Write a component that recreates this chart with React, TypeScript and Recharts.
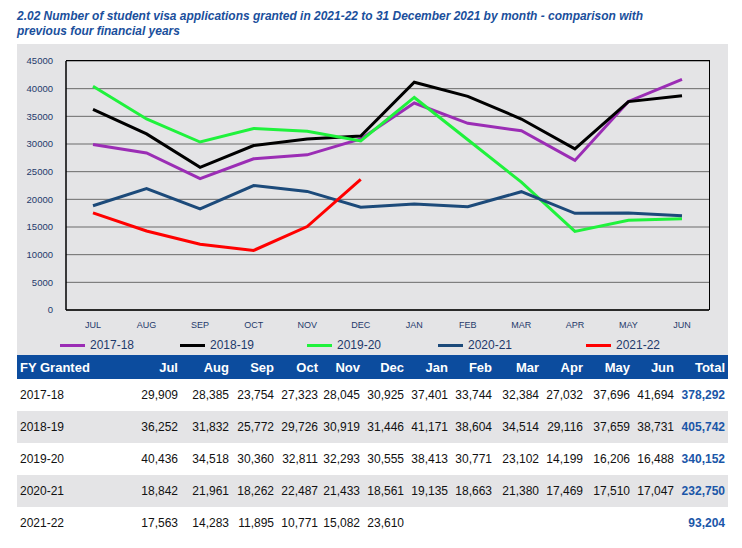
import { LineChart, Line, XAxis, YAxis, CartesianGrid } from 'recharts';

// monthly grants by financial year
const months = ['Jul', 'Aug', 'Sep', 'Oct', 'Nov', 'Dec', 'Jan', 'Feb', 'Mar', 'Apr', 'May', 'Jun'];
const fy1718 = [29909, 28385, 23754, 27323, 28045, 30925, 37401, 33744, 32384, 27032, 37696, 41694];
const fy1819 = [36252, 31832, 25772, 29726, 30919, 31446, 41171, 38604, 34514, 29116, 37659, 38731];
const fy1920 = [40436, 34518, 30360, 32811, 32293, 30555, 38413, 30771, 23102, 14199, 16206, 16488];
const fy2021 = [18842, 21961, 18262, 22487, 21433, 18561, 19135, 18663, 21380, 17469, 17510, 17047];
const fy2122 = [17563, 14283, 11895, 10771, 15082, 23610];
const totals = [378292, 405742, 340152, 232750, 93204];
const yTicks = [0, 5000, 10000, 15000, 20000, 25000, 30000, 35000, 40000, 45000];

const series = [
    { key: 'fy1718', name: '2017-18', color: '#9b2db5', values: fy1718 },
    { key: 'fy1819', name: '2018-19', color: '#000000', values: fy1819 },
    { key: 'fy1920', name: '2019-20', color: '#1ff23c', values: fy1920 },
    { key: 'fy2021', name: '2020-21', color: '#1c4a7a', values: fy2021 },
    { key: 'fy2122', name: '2021-22', color: '#ff0000', values: fy2122 },
];

const data = months.map((m, i) => {
    const row: any = { month: m };
    series.forEach((s) => {
        row[s.key] = s.values[i] ?? null;
    });
    return row;
});

const legendLeft = [43, 163, 290, 421, 569];
const colWidths = [114, 50, 51, 45, 44, 42, 44, 44, 44, 47, 44, 47, 44, 51];

const font = 'Arial, "Liberation Sans", sans-serif';
const axisBlue = '#1f3a6b';

// chart margins, the frame overlay uses the same numbers
const M = { top: 17, right: 19, left: 0, bottom: 25 };
const Y_W = 49;
const X_H = 20;
const CW = 711;
const CH = 311;

export default function App() {
    return (
        <div style={{ position: 'relative', width: 742, height: 548, background: '#fff', fontFamily: font }}>
            <style>{`body{margin:0}`}</style>
            <div
                style={{
                    position: 'absolute',
                    left: 17,
                    top: 8,
                    width: 780,
                    fontSize: 13,
                    lineHeight: '15px',
                    fontWeight: 'bold',
                    fontStyle: 'italic',
                    color: '#1a4f9c',
                    transform: 'scaleX(0.92)',
                    transformOrigin: 'left top',
                }}
            >
                2.02 Number of student visa applications granted in 2021-22 to 31 December 2021 by month - comparison with
                <br />
                previous four financial years
            </div>

            <div style={{ position: 'absolute', left: 17, top: 44, width: CW, height: CH, background: '#e4e4e6' }}>
                <LineChart width={CW} height={CH} data={data} margin={M}>
                    <CartesianGrid horizontal vertical={false} stroke="#6a6a6a" strokeWidth={1} />
                    <XAxis
                        dataKey="month"
                        padding={{ left: 27, right: 27 }}
                        tickFormatter={(v) => String(v).toUpperCase()}
                        tick={{ fontSize: 9, fill: axisBlue, fontFamily: font }}
                        axisLine={{ stroke: '#000', strokeWidth: 1.5 }}
                        tickLine={false}
                        tickMargin={6}
                        height={X_H}
                        interval={0}
                    />
                    <YAxis
                        domain={[0, 45000]}
                        ticks={yTicks}
                        tick={{ fontSize: 9.5, fill: axisBlue, fontFamily: font }}
                        axisLine={{ stroke: '#000', strokeWidth: 1.5 }}
                        tickLine={false}
                        tickMargin={7}
                        width={Y_W}
                        interval={0}
                    />
                    {series.map((s) => (
                        <Line
                            key={s.key}
                            type="linear"
                            dataKey={s.key}
                            name={s.name}
                            stroke={s.color}
                            strokeWidth={3}
                            dot={false}
                            isAnimationActive={false}
                        />
                    ))}
                </LineChart>
                {/* top and right edges of the plot box */}
                <div
                    style={{
                        position: 'absolute',
                        left: M.left + Y_W,
                        top: M.top - 1,
                        width: CW - M.left - M.right - Y_W + 1,
                        height: CH - M.top - M.bottom - X_H + 1,
                        borderTop: '1.5px solid #000',
                        borderRight: '1.5px solid #000',
                        boxSizing: 'border-box',
                        pointerEvents: 'none',
                    }}
                />
                {series.map((s, i) => (
                    <div
                        key={s.key}
                        style={{
                            position: 'absolute',
                            left: legendLeft[i],
                            top: 294,
                            display: 'flex',
                            alignItems: 'center',
                            fontSize: 12,
                            color: axisBlue,
                        }}
                    >
                        <span style={{ display: 'inline-block', width: 25, height: 3, background: s.color, marginRight: 5 }} />
                        {s.name}
                    </div>
                ))}
            </div>

            <table
                style={{
                    position: 'absolute',
                    left: 17,
                    top: 355,
                    width: 711,
                    borderCollapse: 'collapse',
                    tableLayout: 'fixed',
                    fontSize: 12,
                    fontFamily: font,
                }}
            >
                <colgroup>
                    {colWidths.map((w, i) => (
                        <col key={i} style={{ width: w }} />
                    ))}
                </colgroup>
                <thead>
                    <tr style={{ background: '#0c4c9e', color: '#fff', height: 24 }}>
                        <th style={{ textAlign: 'left', padding: '0 3px', fontSize: 13 }}>FY Granted</th>
                        {months.map((m) => (
                            <th key={m} style={{ textAlign: 'right', padding: '0 3px 0 0', fontSize: 13 }}>
                                {m}
                            </th>
                        ))}
                        <th style={{ textAlign: 'right', padding: '0 3px 0 0', fontSize: 13 }}>Total</th>
                    </tr>
                </thead>
                <tbody>
                    {series.map((s, r) => (
                        <tr key={s.key} style={{ height: 32, background: r % 2 === 1 ? '#e4e4e6' : '#fff', color: '#111' }}>
                            <td style={{ padding: '0 3px' }}>{s.name}</td>
                            {months.map((m, i) => (
                                <td key={m} style={{ textAlign: 'right', padding: '0 3px 0 0' }}>
                                    {s.values[i] != null ? s.values[i].toLocaleString('en-US') : ''}
                                </td>
                            ))}
                            <td style={{ textAlign: 'right', padding: '0 3px 0 0', color: '#1a56a8', fontWeight: 'bold' }}>
                                {totals[r].toLocaleString('en-US')}
                            </td>
                        </tr>
                    ))}
                </tbody>
            </table>
        </div>
    );
}
